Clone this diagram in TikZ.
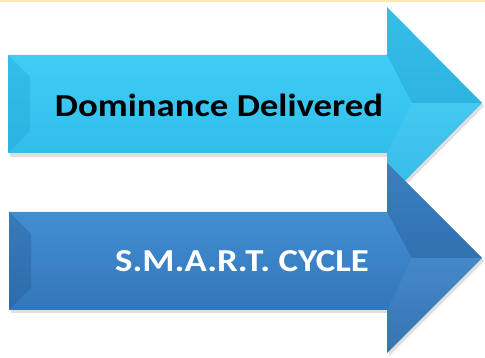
\documentclass[tikz,border=0pt]{standalone}
\usepackage{fontspec}
\setmainfont{Carlito}
\usetikzlibrary{positioning}

\definecolor{cyanTop}{HTML}{46D6FC}
\definecolor{cyanBot}{HTML}{2BB6E6}
\definecolor{cyanDark}{HTML}{1E9ACB}
\definecolor{blueTop}{HTML}{4A9AE0}
\definecolor{blueBot}{HTML}{2C6CAE}
\definecolor{blueDark}{HTML}{22588F}
\definecolor{rimLine}{HTML}{FCE7B0}

\newcommand{\widetext}[1]{\scalebox{1.15}[1]{#1}}

\begin{document}
\begin{tikzpicture}[x=1pt,y=-1pt,
  shadow/.style={fill=black!25,opacity=0.5},
  label/.style={font=\bfseries\fontsize{32}{32}\selectfont,inner sep=0pt}]
 \useasboundingbox (0,0) rectangle (485,358);
 \draw[rimLine,line width=1.5pt] (0,1) -- (485,1);

 % upper arrow
 \fill[shadow] (10,58) -- (389,58) -- (389,10) -- (484,106) -- (389,202) -- (389,157) -- (10,157) -- cycle;
 \shade[top color=cyanTop,bottom color=cyanBot]
  (8,55) -- (387,55) -- (387,7) -- (482,103) -- (387,199) -- (387,153) -- (8,153) -- cycle;
 \fill[cyanDark,opacity=0.3] (8,55) -- (30,77) -- (30,131) -- (8,153) -- cycle;
 \fill[cyanDark,opacity=0.4] (387,7) -- (482,103) -- (412,103) -- (387,55) -- cycle;
 \fill[white,opacity=0.06] (387,199) -- (482,103) -- (412,103) -- (387,153) -- cycle;

 % lower arrow
 \fill[shadow] (11,215) -- (389,215) -- (389,166) -- (484,261) -- (389,356) -- (389,313) -- (11,313) -- cycle;
 \shade[top color=blueTop,bottom color=blueBot]
  (9,212) -- (387,212) -- (387,163) -- (482,258) -- (387,353) -- (387,310) -- (9,310) -- cycle;
 \fill[blueDark,opacity=0.35] (9,212) -- (31,234) -- (31,288) -- (9,310) -- cycle;
 \fill[blueDark,opacity=0.4] (387,163) -- (482,258) -- (412,258) -- (387,212) -- cycle;
 \fill[white,opacity=0.05] (387,353) -- (482,258) -- (412,258) -- (387,310) -- cycle;

 \node[label] (dom) at (219,105) {\widetext{Dominance Delivered}};
 \node[label,text=white] (smart) at (242,261) {\widetext{S.M.A.R.T. CYCLE}};
\end{tikzpicture}
\end{document}
